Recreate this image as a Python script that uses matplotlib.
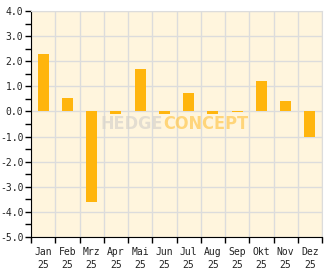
import matplotlib
matplotlib.use("Agg")
import matplotlib.pyplot as plt
import numpy as np
from matplotlib.ticker import MultipleLocator

months = ["Jan", "Feb", "Mrz", "Apr", "Mai", "Jun", "Jul", "Aug", "Sep", "Okt", "Nov", "Dez"]
years = ["25"] * 12
values = [2.3, 0.55, -3.6, -0.1, 1.7, -0.1, 0.72, -0.1, -0.03, 1.2, 0.4, -1.0]

fig = plt.figure(figsize=(3.32, 2.69), dpi=100)
ax = fig.add_axes([31 / 332, 32 / 269, 291 / 332, 226 / 269])
ax.set_facecolor("#fff5dd")

x = np.arange(len(months))
ax.bar(x, values, width=0.45, color="#ffb50d", zorder=3)

ax.set_xlim(-0.5, 11.5)
ax.set_ylim(-5, 4)

ax.set_xticks(np.arange(-0.5, 12, 1))
ax.set_xticklabels([])
ax.set_xticks(x, minor=True)
ax.set_xticklabels([m + "\n" + y for m, y in zip(months, years)], minor=True)
ax.tick_params(axis="x", which="minor", length=0, pad=7)
ax.tick_params(axis="x", which="major", length=4, width=1, direction="out")

ax.yaxis.set_major_locator(MultipleLocator(1))
ax.yaxis.set_minor_locator(MultipleLocator(0.5))
ax.set_yticks(np.arange(-5, 4.1, 1))
ax.set_yticklabels(["%.1f" % v for v in np.arange(-5, 4.1, 1)])
ax.tick_params(axis="y", which="major", length=4, width=1, direction="out", pad=1.5)
ax.tick_params(axis="y", which="minor", length=4, width=1, direction="out")

for lab in ax.get_yticklabels() + ax.get_xticklabels(minor=True):
    lab.set_fontfamily("DejaVu Sans Mono")
    lab.set_fontsize(7)
    lab.set_color("#222222")
for lab in ax.get_xticklabels(minor=True):
    lab.set_linespacing(1.35)

ax.grid(True, which="major", color="#dcdcdc", linewidth=1, zorder=0)
ax.set_axisbelow(True)

ax.spines["left"].set_color("black")
ax.spines["bottom"].set_color("black")
ax.spines["top"].set_color("#dcdcdc")
ax.spines["right"].set_color("#dcdcdc")

# watermark
for word, side, col in [("HEDGE", "right", "#d8d4cc"), ("CONCEPT", "left", "#ffc850")]:
    ax.text(0.454, 0.50, word, transform=ax.transAxes, ha=side, va="center",
            fontsize=13, fontweight="bold", fontstretch="condensed",
            family="DejaVu Sans", color=col, alpha=0.7, zorder=4)

fig.savefig("out.png", dpi=100)
